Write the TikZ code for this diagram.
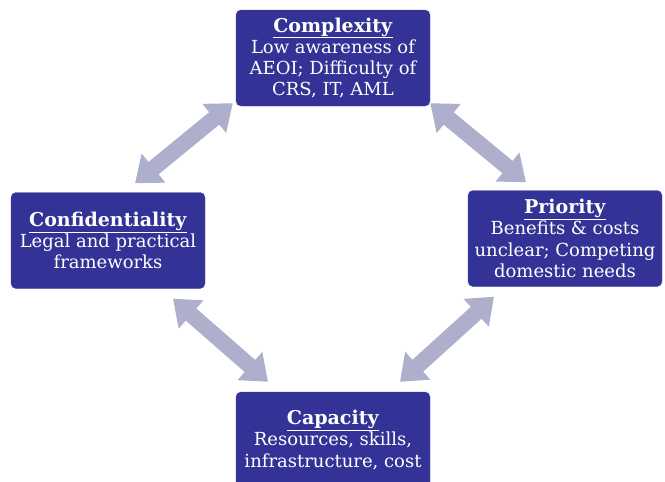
\documentclass[tikz,border=0pt]{standalone}
\usepackage{fontspec}
\setmainfont{DejaVu Serif}
\usetikzlibrary{arrows.meta,calc}
\definecolor{boxblue}{RGB}{51,51,151}
\definecolor{boxedge}{RGB}{72,72,168}
\definecolor{arrowgrey}{RGB}{173,175,204}
\tikzset{>=latex, issue/.style = {draw=boxedge, fill=boxblue, rounded corners=5pt,
    minimum width=194pt, minimum height=96pt, inner sep=0pt, text=white,
    align=center, font=\fontsize{18}{21.3}\selectfont},%
  twoway/.style={draw=arrowgrey, line width=16pt,
    {Triangle[width=36pt,length=24pt]}-{Triangle[width=36pt,length=24pt]}}}
\newcommand{\hd}[1]{{\fontsize{19}{21.3}\selectfont\underline{\textbf{#1}}}}

\begin{document}
\begin{tikzpicture}[x=1pt,y=-1pt]
  \useasboundingbox (0,0) rectangle (665,482);
  \node[issue] (comp) at (333,58) {\hd{Complexity}\\Low awareness of\\AEOI; Difficulty of\\CRS, IT, AML};
  \node[issue] (conf) at (108,240.5) {\hd{Confidentiality}\\Legal and practical\\frameworks};
  \node[issue] (prio) at (565,238.5) {\hd{Priority}\\Benefits \& costs\\unclear; Competing\\domestic needs};
  \node[issue] (capa) at (333,440) {\hd{Capacity}\\Resources, skills,\\infrastructure, cost};
  \draw[twoway] ([shift={(27,-9)}]conf.north) -- ([shift={(-3,-3)}]comp.south west);
  \draw[twoway] ([shift={(0,-3)}]comp.south east) -- ([shift={(-39,-8)}]prio.north);
  \draw[twoway] ([shift={(65,10)}]conf.south) -- ([shift={(-65,-10)}]capa.north);
  \draw[twoway] ([shift={(-71,10)}]prio.south) -- ([shift={(67,-10)}]capa.north);
\end{tikzpicture}
\end{document}
